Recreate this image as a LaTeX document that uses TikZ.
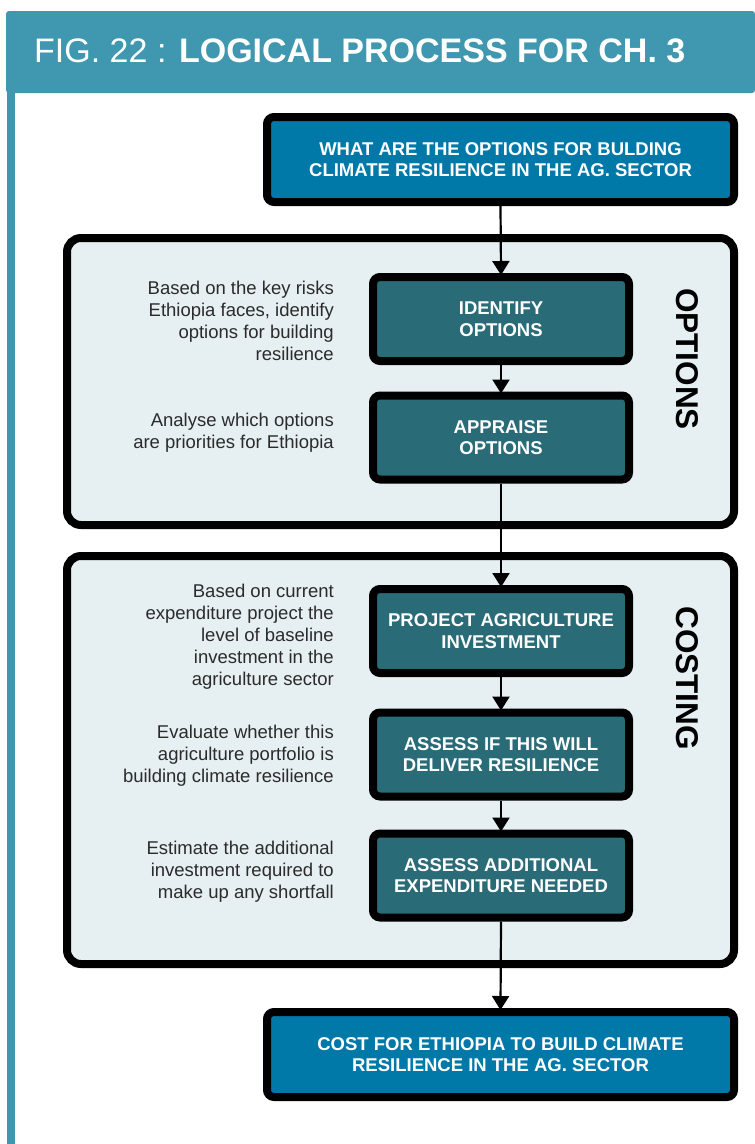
\documentclass[tikz,border=0pt]{standalone}
\usepackage{fontspec}
\setmainfont{Liberation Sans}
\usetikzlibrary{arrows.meta}

\definecolor{headteal}{HTML}{3F98AF}
\definecolor{keyblue}{HTML}{0179A8}
\definecolor{stepteal}{HTML}{2A6B78}
\definecolor{panelfill}{HTML}{E6EFF2}
\definecolor{notegray}{HTML}{2B2B2B}

\tikzset{
  keybox/.style={draw=black, line width=8pt, rounded corners=7pt, fill=keyblue,
    minimum width=467pt, minimum height=85pt, inner sep=0pt, align=center,
    text=white, font=\fontsize{18.5}{21.5}\selectfont\bfseries},
  stepbox/.style={keybox, fill=stepteal, minimum width=256pt, minimum height=84pt},
  panel/.style={draw=black, line width=8pt, rounded corners=14pt, fill=panelfill,
    minimum width=667pt, inner sep=0pt},
  note/.style={anchor=east, align=right, inner sep=0pt, text=notegray,
    font=\fontsize{18.5}{22}\selectfont},
  phase/.style={rotate=-90, inner sep=0pt, text=black,
    font=\fontsize{31.5}{32}\selectfont\bfseries},
  flow/.style={line width=2.2pt, draw=black,
    -{Triangle[width=17pt,length=14pt]}, shorten >=-2pt},
}

\begin{document}
\begin{tikzpicture}[x=1pt, y=-1pt]
  \useasboundingbox (0,0) rectangle (755,1144);

  % frame: title band and left rule
  \fill[headteal, rounded corners=3pt] (6,11) -- (755,11) -- (755,93) -- (6,93) -- cycle;
  \fill[headteal] (7,92) rectangle (15,1144);
  \node[anchor=base west, inner sep=0pt, text=white] (title) at (34,62)
    {\fontsize{34}{36}\selectfont FIG. 22 : \textbf{LOGICAL PROCESS FOR CH. 3}};

  % phase panels
  \node[panel, minimum height=287pt] (optpanel) at (400.5,381.5) {};
  \node[panel, minimum height=408pt] (costpanel) at (400.5,760) {};
  \node[phase] (optlabel) at (687,359) {OPTIONS};
  \node[phase] (costlabel) at (687,678) {COSTING};

  % process steps
  \node[keybox] (question) at (500.5,159.5)
    {WHAT ARE THE OPTIONS FOR BULDING\\CLIMATE RESILIENCE IN THE AG. SECTOR};
  \node[stepbox] (identify) at (501,319) {IDENTIFY\\OPTIONS};
  \node[stepbox] (appraise) at (501,437.5) {APPRAISE\\OPTIONS};
  \node[stepbox] (project) at (501,631) {PROJECT AGRICULTURE\\INVESTMENT};
  \node[stepbox] (deliver) at (501,754.5) {ASSESS IF THIS WILL\\DELIVER RESILIENCE};
  \node[stepbox] (additional) at (501,875.5) {ASSESS ADDITIONAL\\EXPENDITURE NEEDED};
  \node[keybox] (cost) at (500.5,1054.5)
    {COST FOR ETHIOPIA TO BUILD CLIMATE\\RESILIENCE IN THE AG. SECTOR};

  % explanatory notes
  \node[note] (identifynote) at (334,321)
    {Based on the key risks\\Ethiopia faces, identify\\options for building\\resilience};
  \node[note] (appraisenote) at (334,433)
    {Analyse which options\\are priorities for Ethiopia};
  \node[note] (projectnote) at (334,637)
    {Based on current\\expenditure project the\\level of baseline\\investment in the\\agriculture sector};
  \node[note] (delivernote) at (334,756)
    {Evaluate whether this\\agriculture portfolio is\\building climate resilience};
  \node[note] (additionalnote) at (334,872)
    {Estimate the additional\\investment required to\\make up any shortfall};

  % flow
  \draw[flow] (question.south) -- (identify.north);
  \draw[flow] (identify.south) -- (appraise.north);
  \draw[flow] (appraise.south) -- (project.north);
  \draw[flow] (project.south) -- (deliver.north);
  \draw[flow] (deliver.south) -- (additional.north);
  \draw[flow] (additional.south) -- (cost.north);
\end{tikzpicture}
\end{document}
